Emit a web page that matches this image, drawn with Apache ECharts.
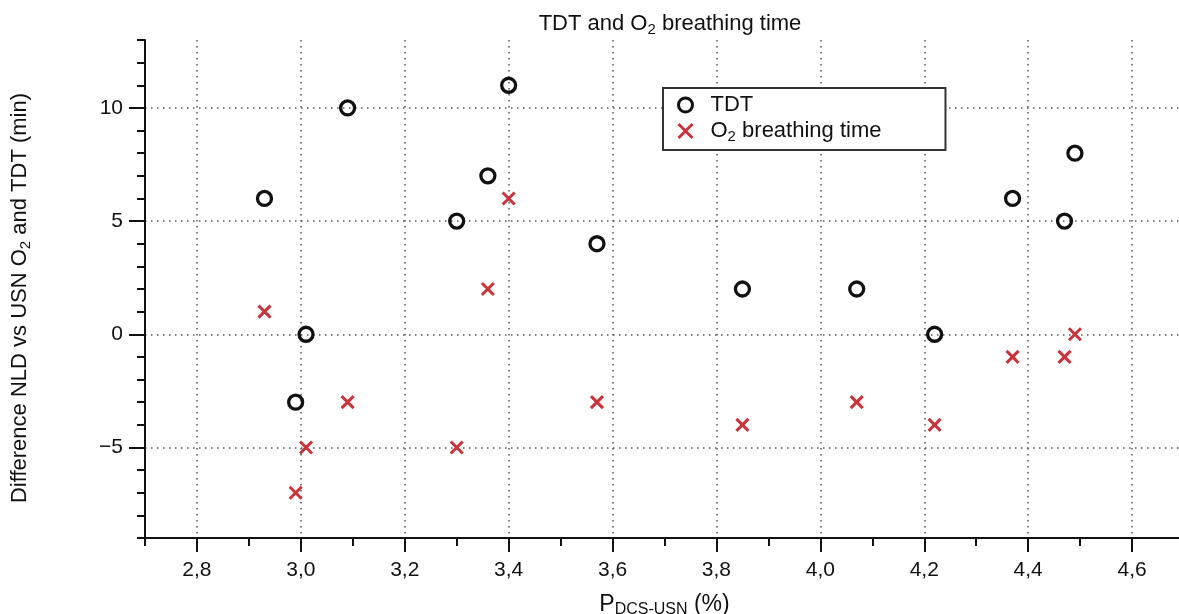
<!DOCTYPE html>
<html>
<head>
<meta charset="utf-8">
<script src="https://cdn.jsdelivr.net/npm/echarts@6/dist/echarts.min.js"></script>
<style>
html,body{margin:0;padding:0;background:#fff;}
#chart{width:1179px;height:614px;}
</style>
</head>
<body>
<div id="chart"></div>
<script>
// ---- data ----
const pDcs = [2.93, 2.99, 3.01, 3.09, 3.30, 3.36, 3.40, 3.57, 3.85, 4.07, 4.22, 4.37, 4.47, 4.49];
const tdtDiff = [6, -3, 0, 10, 5, 7, 11, 4, 2, 2, 0, 6, 5, 8];
const o2Diff = [1, -7, -5, -3, -5, 2, 6, -3, -4, -3, -4, -1, -1, 0];
const xMajorTicks = [2.8, 3.0, 3.2, 3.4, 3.6, 3.8, 4.0, 4.2, 4.4, 4.6];
const xMinorTicks = [2.7, 2.9, 3.1, 3.3, 3.5, 3.7, 3.9, 4.1, 4.3, 4.5, 4.7];
const yMajorTicks = [-5, 0, 5, 10];
const yMinorTicks = [-9, -8, -7, -6, -4, -3, -2, -1, 1, 2, 3, 4, 6, 7, 8, 9, 11, 12, 13];
const seriesNames = ['TDT', 'O2 breathing time'];

const FONT = 'Liberation Sans';
const FS = 22;
const FS_TICK = 21;
const rich = {
  t: {fontFamily: FONT, fontSize: FS, fontWeight: 'normal', color: '#111', lineHeight: 26},
  s: {fontFamily: FONT, fontSize: 15, fontWeight: 'normal', color: '#111', lineHeight: 15, verticalAlign: 'bottom'}
};
const richX = {
  t: {fontFamily: FONT, fontSize: 23, fontWeight: 'normal', color: '#111', lineHeight: 27},
  s: {fontFamily: FONT, fontSize: 16, fontWeight: 'normal', color: '#111', lineHeight: 16, verticalAlign: 'bottom'}
};
const crossPath = 'path://M0,0L10,10M10,0L0,10';
const RED = '#c9343b';
const gridLine = {show: true, lineStyle: {color: '#555', width: 1.5, type: [1.5, 4.5]}};

const chart = echarts.init(document.getElementById('chart'), null, {renderer: 'canvas'});
const option = {
  animation: false,
  backgroundColor: '#fff',
  title: {
    text: '{t|TDT and O}{s|2}{t| breathing time}',
    left: 665, top: 6, textAlign: 'center',
    textStyle: {fontWeight: 'normal', rich: rich}
  },
  legend: {
    orient: 'vertical', left: 663, top: 88,
    padding: [6, 64, 6, 14],
    itemWidth: 40, itemHeight: 14, itemGap: 4,
    backgroundColor: '#fff', borderColor: '#333', borderWidth: 2,
    data: [
      {name: seriesNames[0], icon: 'circle', itemStyle: {color: 'transparent', borderColor: '#111', borderWidth: 3}},
      {name: seriesNames[1], icon: crossPath, itemStyle: {color: RED, borderColor: RED, borderWidth: 3}}
    ],
    formatter: function (name) {
      return name === seriesNames[1] ? '{t|O}{s|2}{t| breathing time}' : '{t|' + name + '}';
    },
    textStyle: {rich: rich}
  },
  grid: {left: 145, top: 40, width: 1039, bottom: 76, containLabel: false, outerBoundsMode: 'none'},
  xAxis: [{
    type: 'value', min: 2.7, max: 4.7, position: 'bottom',
    name: '{t|P}{s|DCS-USN}{t| (%)}', nameLocation: 'middle', nameGap: 53,
    nameTextStyle: {rich: richX},
    axisLine: {show: true, onZero: false, lineStyle: {color: '#111', width: 2}},
    axisTick: {show: true, inside: false, length: 14, customValues: xMajorTicks, lineStyle: {color: '#111', width: 2}},
    axisLabel: {show: true, margin: 22, customValues: xMajorTicks, fontFamily: FONT, fontSize: FS_TICK, color: '#111',
      formatter: function (v) { return v.toFixed(1).replace('.', ','); }},
    splitLine: gridLine
  }, {
    type: 'value', min: 2.7, max: 4.7, position: 'bottom', gridIndex: 0,
    axisLine: {show: false, onZero: false},
    axisTick: {show: true, inside: false, length: 8, customValues: xMinorTicks, lineStyle: {color: '#111', width: 2}},
    axisLabel: {show: false},
    splitLine: {show: false}
  }],
  yAxis: [{
    type: 'value', min: -9, max: 13, position: 'left',
    name: '{t|Difference NLD vs USN O}{s|2}{t| and TDT (min)}', nameLocation: 'middle', nameGap: 112,
    nameTextStyle: {rich: rich, padding: [0, 18, 0, 0]},
    axisLine: {show: true, onZero: false, lineStyle: {color: '#111', width: 2}},
    axisTick: {show: true, inside: false, length: 16, customValues: yMajorTicks, lineStyle: {color: '#111', width: 2}},
    axisLabel: {show: true, margin: 22, customValues: yMajorTicks, fontFamily: FONT, fontSize: FS_TICK, color: '#111',
      formatter: function (v) { return v < 0 ? '\u2212' + Math.abs(v) : String(v); }},
    splitLine: gridLine
  }, {
    type: 'value', min: -9, max: 13, position: 'left', gridIndex: 0,
    axisLine: {show: false, onZero: false},
    axisTick: {show: true, inside: false, length: 8, customValues: yMinorTicks, lineStyle: {color: '#111', width: 2}},
    axisLabel: {show: false},
    splitLine: {show: false}
  }],
  series: [{
    name: seriesNames[0], type: 'scatter', xAxisIndex: 0, yAxisIndex: 0,
    symbol: 'circle', symbolSize: 14,
    itemStyle: {color: 'transparent', borderColor: '#111', borderWidth: 3.3, opacity: 1},
    data: pDcs.map(function (x, i) { return [x, tdtDiff[i]]; }),
    z: 3
  }, {
    name: seriesNames[1], type: 'scatter', xAxisIndex: 0, yAxisIndex: 0,
    symbol: crossPath, symbolSize: 12,
    itemStyle: {color: RED, borderColor: RED, borderWidth: 3, opacity: 1},
    data: pDcs.map(function (x, i) { return [x, o2Diff[i]]; }),
    z: 2
  }]
};
chart.setOption(option);
</script>
</body>
</html>
